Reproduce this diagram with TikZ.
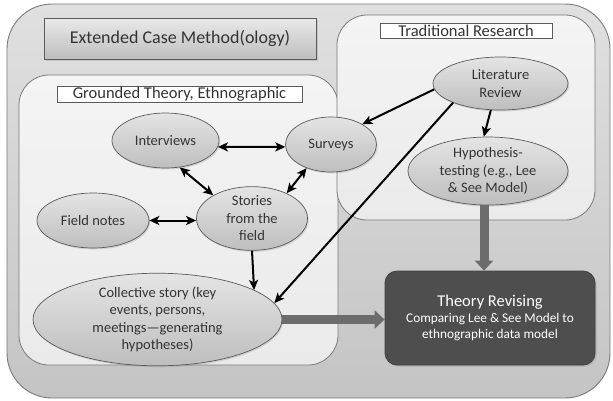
\documentclass[tikz,border=0pt]{standalone}
\usepackage{fontspec}
\setmainfont{Carlito}
\usetikzlibrary{shapes.geometric,arrows.meta,shadows}
\definecolor{outerTop}{HTML}{E0E0E0}
\definecolor{outerBot}{HTML}{C4C4C4}
\definecolor{panelTop}{HTML}{F4F4F4}
\definecolor{panelBot}{HTML}{EAEAEA}
\definecolor{ellTop}{HTML}{E4E4E4}
\definecolor{ellBot}{HTML}{BEBEBE}
\definecolor{edgegray}{HTML}{5A5A5A}
\definecolor{boxedge}{HTML}{7A7A7A}
\definecolor{darkbox}{HTML}{4E4E4E}
\definecolor{grayarrow}{HTML}{6C6C6C}
\definecolor{txt}{HTML}{333333}
\begin{document}
\begin{tikzpicture}[x=1pt,y=-1pt,
  container/.style={draw=boxedge, line width=0.8pt, inner sep=0pt, top color=panelTop, bottom color=panelBot},
  labelbox/.style={draw=edgegray, line width=0.8pt, fill=white, inner sep=0pt, text=txt, font=\fontsize{16.5}{19}\selectfont},
  ell/.style={ellipse, draw=edgegray, line width=0.7pt, top color=ellTop, bottom color=ellBot, inner sep=0pt, align=center, text=txt, font=\fontsize{14.5}{17.5}\selectfont, drop shadow={shadow xshift=1.2pt, shadow yshift=-1.5pt, opacity=0.25}},
  arr/.style={-{Stealth[length=10pt,width=9pt,inset=2.5pt]}, line width=2pt, black},
  darr/.style={{Stealth[length=10pt,width=9pt,inset=2.5pt]}-{Stealth[length=10pt,width=9pt,inset=2.5pt]}, line width=2pt, black},
  garr/.style={draw=grayarrow, line width=9pt, -{Triangle[length=10pt,width=18pt]}}
]
\useasboundingbox (0,0) rectangle (613,400);
% outer container
\node[draw=boxedge, line width=0.9pt, rounded corners=45pt, minimum width=603pt, minimum height=394pt, inner sep=0pt, top color=outerTop, bottom color=outerBot] (outer) at (308.5,201) {};
% title
\node[draw=edgegray, line width=0.8pt, minimum width=272pt, minimum height=41pt, inner sep=0pt, top color=ellTop!80!white, bottom color=ellBot, text=txt, font=\fontsize{18}{21}\selectfont, drop shadow={shadow xshift=1.5pt, shadow yshift=-1.5pt, opacity=0.25}] (title) at (180,38.5) {Extended Case Method(ology)};
% containers
\node[container, rounded corners=30pt, minimum width=319pt, minimum height=290pt] (gt) at (178.5,220) {};
\node[container, rounded corners=30pt, minimum width=258pt, minimum height=205pt] (tr) at (466,117.5) {};
\node[labelbox, minimum width=245pt, minimum height=16pt] (gtlabel) at (179.5,94) {Grounded Theory, Ethnographic};
\node[labelbox, minimum width=172pt, minimum height=15pt] (trlabel) at (466,30.5) {Traditional Research};
% theory box
\node[draw=black!75, line width=0.8pt, fill=darkbox, rounded corners=12pt, minimum width=210pt, minimum height=94pt, inner sep=0pt, align=center, text=white, font=\fontsize{13.3}{16}\selectfont, drop shadow={shadow xshift=1.5pt, shadow yshift=-1.5pt, opacity=0.3}] (theory) at (490,318) {{\fontsize{16.5}{19}\selectfont Theory Revising}\\Comparing Lee \& See Model to\\ethnographic data model};
% ellipses
\node[ell, minimum width=135pt, minimum height=53pt] (lit) at (500.5,83.5) {Literature\\Review};
\node[ell, minimum width=160pt, minimum height=68pt] (hyp) at (488,171) {Hypothesis-\\testing (e.g., Lee\\\& See Model)};
\node[ell, minimum width=107pt, minimum height=55pt] (interviews) at (165.5,140.5) {Interviews};
\node[ell, minimum width=91pt, minimum height=55pt] (surveys) at (331,144.5) {Surveys};
\node[ell, minimum width=111pt, minimum height=63pt] (stories) at (252,218.5) {Stories\\from the\\field};
\node[ell, minimum width=112pt, minimum height=55pt] (field) at (93,220.5) {Field notes};
\node[ell, minimum width=249pt, minimum height=75pt] (collective) at (157.5,319.5) {Collective story (key\\events, persons,\\meetings---generating\\hypotheses)};
% gray block arrows
\draw[garr] ([xshift=-4pt]hyp.south) -- ([xshift=-4pt]hyp.south |- theory.north);
\draw[garr] (collective.east) -- (collective.east -| theory.west);
% black arrows
\draw[arr] (lit.185) -- (surveys.33);
\draw[arr] (lit.250) -- (hyp.97);
\draw[arr] (lit.202) -- (collective.8);
\draw[darr] (interviews.-7) -- (surveys.183);
\draw[darr] (interviews.-62) -- (stories.149);
\draw[darr] (surveys.224) -- (stories.36);
\draw[darr] (field.east) -- (field.east -| stories.west);
\draw[arr] (stories.south) -- (collective.17);
\end{tikzpicture}
\end{document}
